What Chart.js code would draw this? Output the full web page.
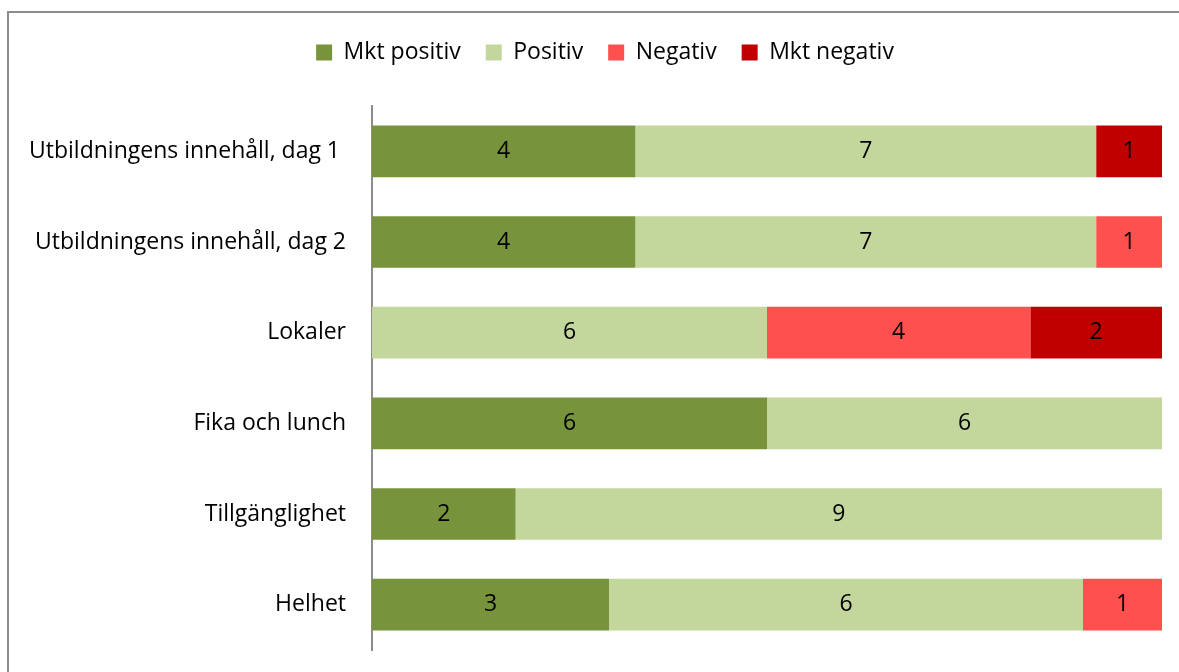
<!DOCTYPE html>
<html>
<head>
<meta charset="utf-8">
<script src="https://cdn.jsdelivr.net/npm/chart.js@4"></script>
<style>
  html, body { margin: 0; padding: 0; background: #fff; overflow: hidden; }
  #wrap { position: relative; width: 1179px; height: 672px; }
  #frame { position: absolute; left: 7px; top: 11px; width: 1200px; height: 700px; border: 2px solid #8c8c8c; box-sizing: border-box; }
  canvas { position: absolute; left: 0; top: 0; }
</style>
</head>
<body>
<div id="wrap">
  <div id="frame"></div>
  <canvas id="chart" width="1179" height="672"></canvas>
</div>
<script>
const categories = [
  'Utbildningens innehåll, dag 1 ',
  'Utbildningens innehåll, dag 2',
  'Lokaler',
  'Fika och lunch',
  'Tillgänglighet',
  'Helhet'
];
const seriesNames = ['Mkt positiv', 'Positiv', 'Negativ', 'Mkt negativ'];
const mktPositiv = [4, 4, 0, 6, 2, 3];
const positiv    = [7, 7, 6, 6, 9, 6];
const negativ    = [0, 1, 4, 0, 0, 1];
const mktNegativ = [1, 0, 2, 0, 0, 0];
const seriesColors = ['#77933c', '#c3d69b', '#ff5050', '#c00000'];

const counts = [mktPositiv, positiv, negativ, mktNegativ];
const totals = categories.map((_, i) => counts.reduce((s, arr) => s + arr[i], 0));

const FONT = '"Open Sans", sans-serif';
const FONT_SIZE = 23;

const datasets = counts.map((arr, k) => ({
  label: seriesNames[k],
  raw: arr,
  data: arr.map((v, i) => v / totals[i] * 100),
  backgroundColor: seriesColors[k],
  borderWidth: 0,
  barPercentage: 0.57,
  categoryPercentage: 1
}));

// draws the count in the middle of each segment
const countLabels = {
  id: 'countLabels',
  afterDatasetsDraw(chart) {
    const ctx = chart.ctx;
    ctx.save();
    ctx.font = FONT_SIZE + 'px ' + FONT;
    ctx.fillStyle = '#000';
    ctx.textAlign = 'center';
    ctx.textBaseline = 'middle';
    chart.data.datasets.forEach((ds, k) => {
      chart.getDatasetMeta(k).data.forEach((bar, i) => {
        const v = ds.raw[i];
        if (!v) return;
        const p = bar.getProps(['x', 'base', 'y'], true);
        ctx.fillText(String(v), (p.x + p.base) / 2, p.y);
      });
    });
    ctx.restore();
  }
};

// extra room under the legend, and nudge it right like the original
const legendGap = {
  id: 'legendGap',
  afterInit(chart) {
    const legend = chart.legend;
    const fit = legend.fit;
    legend.fit = function () {
      fit.call(this);
      this.height += 32;
    };
    const draw = legend.draw;
    legend.draw = function () {
      this.ctx.save();
      this.ctx.translate(24, 0);
      draw.call(this);
      this.ctx.restore();
    };
  }
};

new Chart(document.getElementById('chart'), {
  type: 'bar',
  data: { labels: categories, datasets },
  options: {
    indexAxis: 'y',
    responsive: false,
    animation: false,
    layout: { padding: { left: 0, right: 17, top: 16, bottom: 22 } },
    scales: {
      x: { stacked: true, min: 0, max: 100, display: false },
      y: {
        stacked: true,
        grid: { display: false, drawTicks: false },
        border: { display: true, color: '#8c8c8c', width: 2 },
        ticks: { color: '#000', font: { family: FONT, size: FONT_SIZE }, padding: 26 },
        afterFit(scale) {
          scale.width = 372;
          scale.paddingTop = 0;
          scale.paddingBottom = 0;
        }
      }
    },
    plugins: {
      legend: {
        position: 'top',
        labels: {
          color: '#000',
          font: { family: FONT, size: FONT_SIZE },
          boxWidth: 16,
          boxHeight: 16,
          padding: 25
        }
      },
      tooltip: { enabled: false }
    }
  },
  plugins: [countLabels, legendGap]
});
</script>
</body>
</html>
